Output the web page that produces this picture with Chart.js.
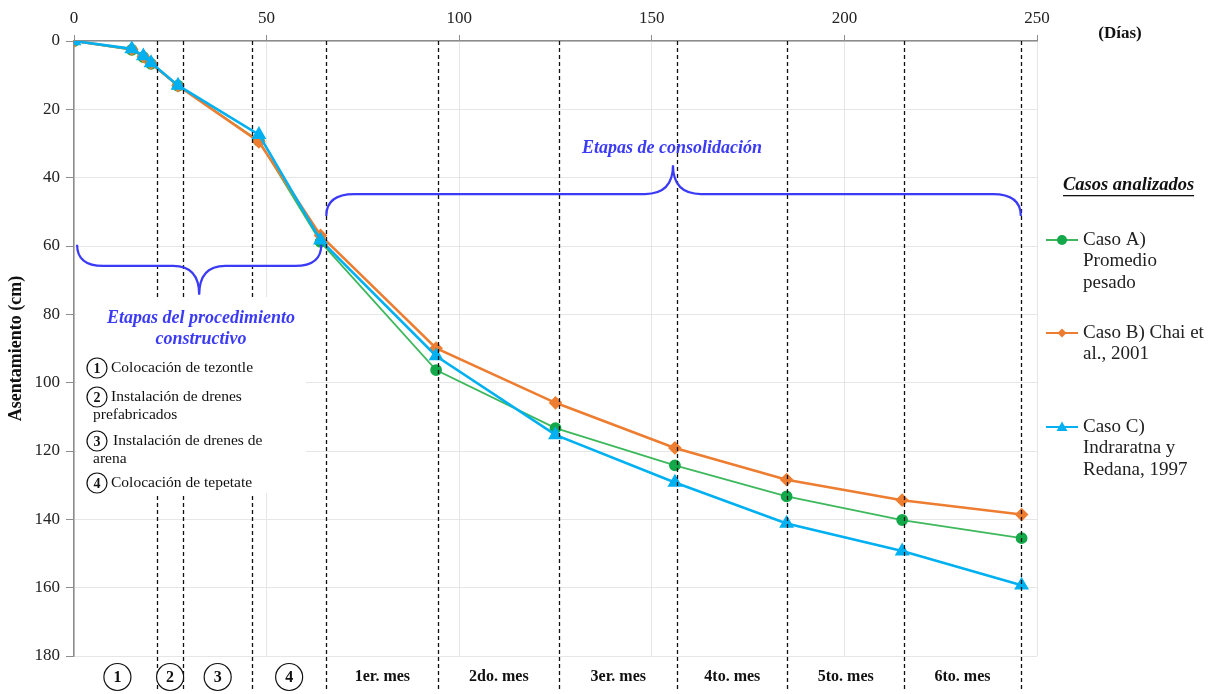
<!DOCTYPE html>
<html>
<head>
<meta charset="utf-8">
<script src="https://cdn.jsdelivr.net/npm/chart.js@4.4.1/dist/chart.umd.min.js"></script>
<style>
  html, body { margin: 0; padding: 0; background: #fff; }
  #asentamientoChart { display: block; }
</style>
</head>
<body>
<canvas id="asentamientoChart" width="1216" height="694"></canvas>
<script>
// Tiempo (días) y asentamiento (cm) para cada caso
const dias  = [0, 15, 18, 20, 27, 48, 64, 94, 125, 156, 185, 215, 246];
const casoA = [0, 2.6, 4.7, 6.7, 13.1, 29.2, 58.8, 96.3, 113.3, 124.2, 133.3, 140.2, 145.5];
const casoB = [0, 2.4, 4.5, 6.5, 13.1, 29.5, 56.9, 89.9, 105.9, 119.1, 128.4, 134.4, 138.6];
const casoC = [0, 2.3, 4.4, 6.4, 13.0, 27.4, 58.3, 92.2, 115.3, 129.2, 141.2, 149.3, 159.3];

// Límites de cada etapa (días)
const limitesEtapas = [21.5, 28.4, 46.2, 65.5, 94.6, 126, 156.6, 185.2, 215.5, 245.8];
const etiquetasEtapas = ['1', '2', '3', '4', '1er. mes', '2do. mes', '3er. mes', '4to. mes', '5to. mes', '6to. mes'];

const xTicks = [0, 50, 100, 150, 200, 250];
const yTicks = [0, 20, 40, 60, 80, 100, 120, 140, 160, 180];

const procedimiento = [
    { n: '1', lineas: ['Colocación de tezontle'] },
    { n: '2', lineas: ['Instalación de drenes', 'prefabricados'] },
    { n: '3', lineas: ['Instalación de drenes de', 'arena'] },
    { n: '4', lineas: ['Colocación de tepetate'] }
];

const casos = [
    { lineas: ['Caso A)', 'Promedio', 'pesado'], color: '#3db85c', marker: '#13a84a', estilo: 'circle' },
    { lineas: ['Caso B) Chai et', 'al., 2001'], color: '#ed7d31', marker: '#ed7d31', estilo: 'rectRot' },
    { lineas: ['Caso C)', 'Indraratna y', 'Redana, 1997'], color: '#00b0f0', marker: '#00b0f0', estilo: 'triangle' }
];

const SERIF = '"Liberation Serif", "Times New Roman", serif';
const AZUL = '#3b3bf6';

function puntos(valores) {
    return dias.map((d, i) => ({ x: d, y: valores[i] }));
}

function circulo(ctx, x, y, r, texto, font) {
    ctx.beginPath();
    ctx.arc(x, y, r, 0, Math.PI * 2);
    ctx.fillStyle = '#fff';
    ctx.fill();
    ctx.lineWidth = 1.2;
    ctx.strokeStyle = '#111';
    ctx.stroke();
    ctx.fillStyle = '#111';
    ctx.font = font;
    ctx.textAlign = 'center';
    ctx.textBaseline = 'middle';
    ctx.fillText(texto, x, y + 1);
}

// Llave: extremos en yEnd, tramo recto en yMid, punta en (xTip, yTip)
function llave(ctx, x1, x2, xTip, yEnd, yMid, yTip, r) {
    ctx.beginPath();
    ctx.moveTo(x1, yEnd);
    ctx.quadraticCurveTo(x1, yMid, x1 + r, yMid);
    ctx.lineTo(xTip - r, yMid);
    ctx.quadraticCurveTo(xTip, yMid, xTip, yTip);
    ctx.quadraticCurveTo(xTip, yMid, xTip + r, yMid);
    ctx.lineTo(x2 - r, yMid);
    ctx.quadraticCurveTo(x2, yMid, x2, yEnd);
    ctx.strokeStyle = AZUL;
    ctx.lineWidth = 2.2;
    ctx.stroke();
}

const anotaciones = {
    id: 'anotaciones',
    afterDraw(chart) {
        const ctx = chart.ctx;
        const xs = chart.scales.x;
        const ys = chart.scales.y;
        const area = chart.chartArea;
        ctx.save();

        // Líneas de división de etapas
        ctx.setLineDash([4, 3]);
        ctx.strokeStyle = '#111';
        ctx.lineWidth = 1.3;
        limitesEtapas.forEach(d => {
            const px = Math.round(xs.getPixelForValue(d)) + 0.5;
            ctx.beginPath();
            ctx.moveTo(px, area.top);
            ctx.lineTo(px, 692);
            ctx.stroke();
        });
        ctx.setLineDash([]);

        // Recuadros blancos del texto de procedimiento
        ctx.fillStyle = '#fff';
        ctx.fillRect(area.left + 2, 297, 246, 52);
        ctx.fillRect(area.left + 2, 349, 230, 144);

        // Llaves
        llave(ctx, xs.getPixelForValue(0.8), xs.getPixelForValue(64.2), xs.getPixelForValue(32.5),
              ys.getPixelForValue(59.6), ys.getPixelForValue(65.8), ys.getPixelForValue(74.3), 26);
        llave(ctx, xs.getPixelForValue(limitesEtapas[3]), xs.getPixelForValue(limitesEtapas[9]), xs.getPixelForValue(155.5),
              ys.getPixelForValue(51.2), ys.getPixelForValue(44.8), ys.getPixelForValue(36.4), 28);

        // Títulos de etapas
        ctx.fillStyle = AZUL;
        ctx.font = 'italic bold 18px ' + SERIF;
        ctx.textAlign = 'center';
        ctx.textBaseline = 'middle';
        ctx.fillText('Etapas de consolidación', 672, 148);
        ctx.fillText('Etapas del procedimiento', 201, 318);
        ctx.fillText('constructivo', 201, 339);

        // Lista del procedimiento constructivo
        const filas = [368, 397, 441, 483];
        procedimiento.forEach((p, i) => {
            const y = filas[i];
            circulo(ctx, 97, y, 10, p.n, 'bold 14px ' + SERIF);
            ctx.fillStyle = '#111';
            ctx.font = '15.5px ' + SERIF;
            ctx.textAlign = 'left';
            ctx.textBaseline = 'middle';
            ctx.fillText(p.lineas[0], i === 2 ? 113 : 111, y);
            if (p.lineas[1]) ctx.fillText(p.lineas[1], 93, y + 18);
        });

        // Etiquetas inferiores de cada etapa
        let previo = 0;
        limitesEtapas.forEach((d, i) => {
            const cx = (xs.getPixelForValue(previo) + xs.getPixelForValue(d)) / 2;
            previo = d;
            if (i < 4) {
                circulo(ctx, cx + (i === 0 ? 2 : 0), 677, 13.5, etiquetasEtapas[i], 'bold 16px ' + SERIF);
            } else {
                ctx.fillStyle = '#111';
                ctx.font = 'bold 16px ' + SERIF;
                ctx.textAlign = 'center';
                ctx.textBaseline = 'middle';
                ctx.fillText(etiquetasEtapas[i], cx, 677);
            }
        });

        // Unidad del eje horizontal
        ctx.fillStyle = '#111';
        ctx.font = 'bold 17px ' + SERIF;
        ctx.textAlign = 'center';
        ctx.fillText('(Días)', 1120, 34);

        // Leyenda
        ctx.font = 'italic bold 18.5px ' + SERIF;
        ctx.textAlign = 'left';
        ctx.fillText('Casos analizados', 1063, 185);
        const w = ctx.measureText('Casos analizados').width;
        ctx.fillRect(1063, 195, w, 1.3);

        const inicios = [240, 333, 427];
        casos.forEach((c, i) => {
            const y = inicios[i];
            ctx.strokeStyle = c.color;
            ctx.lineWidth = 2;
            ctx.beginPath();
            ctx.moveTo(1046, y);
            ctx.lineTo(1078, y);
            ctx.stroke();
            ctx.fillStyle = c.marker;
            ctx.beginPath();
            if (c.estilo === 'circle') {
                ctx.arc(1062, y, 5, 0, Math.PI * 2);
            } else if (c.estilo === 'rectRot') {
                ctx.moveTo(1062, y - 4.5); ctx.lineTo(1066.5, y); ctx.lineTo(1062, y + 4.5); ctx.lineTo(1057.5, y);
            } else {
                ctx.moveTo(1062, y - 5.5); ctx.lineTo(1067.5, y + 4); ctx.lineTo(1056.5, y + 4);
            }
            ctx.closePath();
            ctx.fill();
            ctx.fillStyle = '#222';
            ctx.font = '19px ' + SERIF;
            ctx.textBaseline = 'middle';
            c.lineas.forEach((t, k) => ctx.fillText(t, 1083, y + k * 21.5));
        });

        ctx.restore();
    }
};

const conjuntos = [casoA, casoB, casoC].map((valores, i) => ({
    label: casos[i].lineas.join(' '),
    data: puntos(valores),
    showLine: true,
    borderColor: casos[i].color,
    backgroundColor: casos[i].marker,
    pointBackgroundColor: casos[i].marker,
    pointBorderColor: casos[i].marker,
    pointStyle: casos[i].estilo,
    pointRadius: i === 2 ? 6 : 5,
    borderWidth: i === 0 ? 1.8 : 2.6,
    order: [2, 1, 0][i],
    tension: 0
}));

new Chart(document.getElementById('asentamientoChart'), {
    type: 'scatter',
    data: { datasets: conjuntos },
    options: {
        responsive: false,
        animation: false,
        devicePixelRatio: 1,
        layout: { padding: { left: 0, right: 179, top: 0, bottom: 38 } },
        plugins: {
            legend: { display: false },
            tooltip: { enabled: false }
        },
        scales: {
            x: {
                type: 'linear',
                position: 'top',
                min: 0,
                max: 250,
                afterFit(scale) { scale.height = 41; },
                afterBuildTicks(scale) { scale.ticks = xTicks.map(v => ({ value: v })); },
                ticks: { color: '#222', padding: 6, font: { family: SERIF, size: 17 } },
                grid: { color: '#e6e6e6', tickColor: '#8c8c8c', tickLength: 6 },
                border: { color: '#8c8c8c', width: 1.5 }
            },
            y: {
                type: 'linear',
                reverse: true,
                min: 0,
                max: 180,
                afterFit(scale) { scale.width = 74; },
                afterBuildTicks(scale) { scale.ticks = yTicks.map(v => ({ value: v })); },
                ticks: { color: '#222', padding: 6, font: { family: SERIF, size: 17 } },
                grid: { color: '#e6e6e6', tickColor: '#8c8c8c', tickLength: 8 },
                border: { color: '#8c8c8c', width: 1.5 },
                title: {
                    display: true,
                    text: 'Asentamiento (cm)',
                    color: '#111',
                    padding: { top: 6, bottom: 0 },
                    font: { family: SERIF, size: 18, weight: 'bold' }
                }
            }
        }
    },
    plugins: [anotaciones]
});
</script>
</body>
</html>
